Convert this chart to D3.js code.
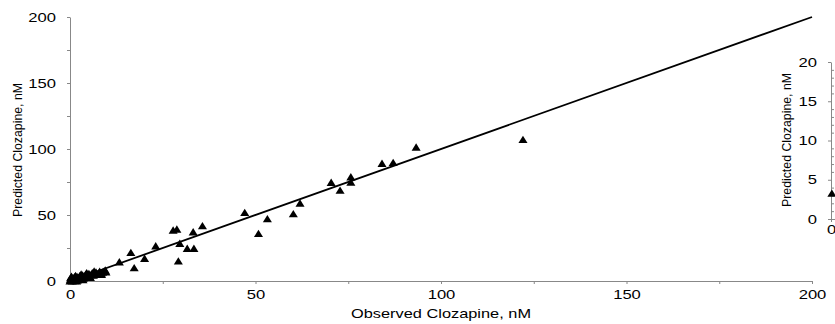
<!DOCTYPE html>
<html>
<head>
<script src="https://d3js.org/d3.v7.min.js"></script>
<style>
body { margin: 0; background: #fff; }
text { font-family: "Liberation Sans", Arial, sans-serif; fill: #000; }
.axis path, .axis line { stroke: #888; }
</style>
</head>
<body>
<div id="chart"></div>
<script>
// main panel: observed vs predicted clozapine (nM)
const observed = [0.0, 0.1, 0.2, 0.3, 0.4, 0.5, 0.6, 0.8, 1.0, 1.2, 1.3, 1.5, 1.6, 1.8, 1.9, 2.0, 2.3, 2.6, 2.8, 3.0,
    3.1, 3.4, 3.5, 3.6, 3.9, 4.2, 4.4, 4.5, 4.8, 5.1, 5.3, 5.5, 5.7, 6.0, 6.3, 6.5, 6.7, 7.0, 7.3, 7.7,
    8.0, 8.4, 8.5, 8.8, 9.2, 9.5, 9.7,
    13.3, 17.3, 16.4, 20.1, 23.1, 27.8, 28.8, 29.6, 29.2, 31.6, 33.4, 33.2, 35.7,
    47.1, 53.2, 50.8, 60.2, 62.0, 70.4, 72.8, 75.7, 75.7, 84.1, 87.1, 93.3, 122.1];
const predicted = [0.2, 1.5, 2.8, 0.5, 3.6, 1.9, 0.1, 2.6, 1.0, 3.2, 0.4, 4.3, 2.0, 0.2, 3.5, 0.9, 2.5, 4.0, 1.6, 5.3,
    3.0, 4.6, 1.1, 2.2, 3.6, 5.1, 2.9, 6.4, 4.3, 5.8, 3.6, 2.8, 4.9, 6.3, 4.4, 7.6, 5.6, 6.9, 5.1, 6.2,
    7.4, 6.0, 5.1, 6.8, 7.6, 8.3, 7.0,
    14.6, 10.1, 21.7, 17.2, 26.7, 38.6, 39.4, 28.6, 15.2, 24.8, 24.8, 37.3, 41.9,
    52.0, 47.2, 36.1, 51.0, 59.1, 74.8, 68.9, 79.0, 75.0, 89.2, 89.9, 101.5, 107.3];
const unityX = [0, 200];
const unityY = [0, 200];
const mainTicks = [0, 25, 50, 75, 100, 125, 150, 175, 200];
const mainTickLabels = ['0', '', '50', '', '100', '', '150', '', '200'];

// inset panel (cut off at the right edge)
const insetObserved = [0.1];
const insetPredicted = [3.3];
const insetMajorTicks = [0, 5, 10, 15, 20];
const insetMajorLabels = ['0', '5', '10', '15', '20'];
const insetMinorTicks = [1, 2, 3, 4, 6, 7, 8, 9, 11, 12, 13, 14, 16, 17, 18, 19];
const insetXTicks = [0];
const insetXLabels = ['0'];

const W = 835, H = 324;
const stretch = 1.33; // horizontal text is drawn wide in the original
const fs = 12.5;

const svg = d3.select('#chart').append('svg').attr('width', W).attr('height', H);

const x = d3.scaleLinear().domain([0, 200]).range([70, 812]);
const y = d3.scaleLinear().domain([0, 200]).range([281, 17]);

const triangle = {
    draw(ctx, size) {
        const w = Math.sqrt(size) * 1.6, h = Math.sqrt(size) * 1.3;
        ctx.moveTo(0, -h / 2);
        ctx.lineTo(w / 2, h / 2);
        ctx.lineTo(-w / 2, h / 2);
        ctx.closePath();
    }
};
const marker = d3.symbol().type(triangle).size(32);

function styleTicks(g) {
    g.selectAll('text')
        .style('font-size', fs + 'px')
        .attr('transform', `scale(${stretch},1)`);
}

// main axes
const xAxis = svg.append('g').attr('class', 'axis').attr('transform', 'translate(0,281)')
    .call(d3.axisBottom(x).tickValues(mainTicks).tickFormat((d, i) => mainTickLabels[i])
        .tickSizeInner(3).tickSizeOuter(0).tickPadding(6.5));
styleTicks(xAxis);

const yAxis = svg.append('g').attr('class', 'axis').attr('transform', 'translate(70,0)')
    .call(d3.axisLeft(y).tickValues(mainTicks).tickFormat((d, i) => mainTickLabels[i])
        .tickSizeInner(3).tickSizeOuter(0).tickPadding(7.5));
styleTicks(yAxis);

// unity line
svg.append('path')
    .datum(unityX.map((d, i) => [d, unityY[i]]))
    .attr('fill', 'none').attr('stroke', '#000').attr('stroke-width', 1.8)
    .attr('d', d3.line().x(d => x(d[0])).y(d => y(d[1])));

// points
svg.append('g').selectAll('path')
    .data(observed.map((d, i) => [d, predicted[i]]))
    .join('path')
    .attr('d', marker)
    .attr('fill', '#000')
    .attr('transform', d => `translate(${x(d[0])},${y(d[1])})`);

// titles
svg.append('text')
    .attr('transform', `translate(441,318) scale(${stretch},1)`)
    .attr('text-anchor', 'middle')
    .style('font-size', '12.3px')
    .text('Observed Clozapine, nM');
svg.append('text')
    .attr('transform', 'translate(18,150) rotate(-90)')
    .attr('text-anchor', 'middle').attr('dy', '0.35em')
    .style('font-size', '12.3px')
    .text('Predicted Clozapine, nM');

// inset
const xi = d3.scaleLinear().domain([0, 20]).range([831, 1011]);
const yi = d3.scaleLinear().domain([0, 20]).range([219, 62]);

const yiMajor = svg.append('g').attr('class', 'axis').attr('transform', 'translate(831,0)')
    .call(d3.axisLeft(yi).tickValues(insetMajorTicks).tickFormat((d, i) => insetMajorLabels[i])
        .tickSizeInner(3).tickSizeOuter(0).tickPadding(7.5));
styleTicks(yiMajor);
svg.append('g').attr('class', 'axis').attr('transform', 'translate(831,0)')
    .call(d3.axisLeft(yi).tickValues(insetMinorTicks).tickFormat('')
        .tickSizeInner(-3).tickSizeOuter(0))
    .select('.domain').remove();

const xiAxis = svg.append('g').attr('class', 'axis').attr('transform', 'translate(0,219)')
    .call(d3.axisBottom(xi).tickValues(insetXTicks).tickFormat((d, i) => insetXLabels[i])
        .tickSizeInner(3).tickSizeOuter(0).tickPadding(3.5));
styleTicks(xiAxis);

svg.append('g').selectAll('path')
    .data(insetObserved.map((d, i) => [d, insetPredicted[i]]))
    .join('path')
    .attr('d', marker)
    .attr('fill', '#000')
    .attr('transform', d => `translate(${xi(d[0])},${yi(d[1])})`);

svg.append('text')
    .attr('transform', 'translate(787,140) rotate(-90)')
    .attr('text-anchor', 'middle').attr('dy', '0.35em')
    .style('font-size', '12.3px')
    .text('Predicted Clozapine, nM');
</script>
</body>
</html>
